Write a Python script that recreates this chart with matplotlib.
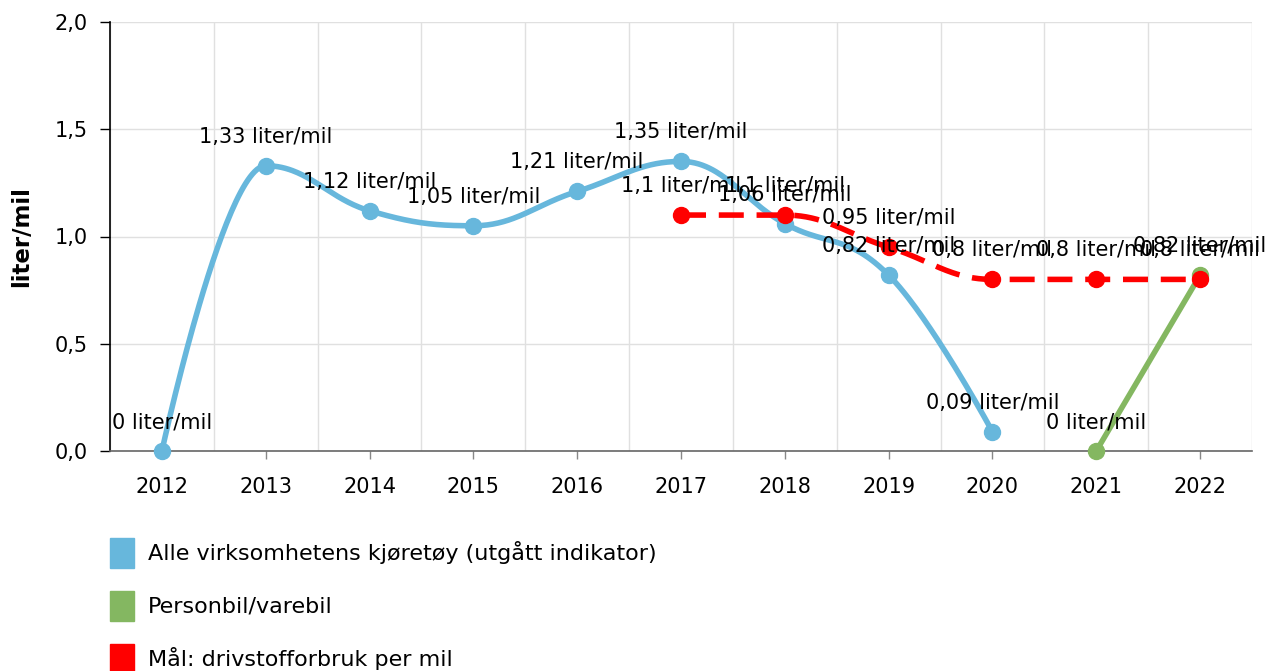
import numpy as np
import matplotlib
matplotlib.use("Agg")
import matplotlib.pyplot as plt
from matplotlib.patches import Rectangle

years = ["2012", "2013", "2014", "2015", "2016", "2017", "2018", "2019", "2020", "2021", "2022"]
alle_vals = [0, 1.33, 1.12, 1.05, 1.21, 1.35, 1.06, 0.82, 0.09]          # 2012-2020
person_vals = [0, 0.82]                                                   # 2021-2022
maal_vals = [1.1, 1.1, 0.95, 0.8, 0.8, 0.8]                               # 2017-2022

series_names = ["Alle virksomhetens kjøretøy (utgått indikator)",
                "Personbil/varebil",
                "Mål: drivstofforbruk per mil"]
colors = ["#67B7DC", "#84B761", "#FF0000"]
yticks = [0.0, 0.5, 1.0, 1.5, 2.0]


def hc_spline(xs, ys, n=60):
    """Highcharts-style spline path (smoothing 1.5)."""
    xs = list(map(float, xs)); ys = list(map(float, ys))
    N = len(xs)
    if N < 3:
        return np.array(xs), np.array(ys)
    sm, den = 1.5, 2.5
    lc = [None] * N
    rc = [None] * N
    for i in range(1, N - 1):
        px, py = xs[i], ys[i]
        lx, ly = xs[i - 1], ys[i - 1]
        nx, ny = xs[i + 1], ys[i + 1]
        lcx = (sm * px + lx) / den; lcy = (sm * py + ly) / den
        rcx = (sm * px + nx) / den; rcy = (sm * py + ny) / den
        corr = ((rcy - lcy) * (rcx - px)) / (rcx - lcx) + py - rcy
        lcy += corr; rcy += corr
        if lcy > ly and lcy > py:
            lcy = max(ly, py); rcy = 2 * py - lcy
        elif lcy < ly and lcy < py:
            lcy = min(ly, py); rcy = 2 * py - lcy
        if rcy > ny and rcy > py:
            rcy = max(ny, py); lcy = 2 * py - rcy
        elif rcy < ny and rcy < py:
            rcy = min(ny, py); lcy = 2 * py - rcy
        lc[i] = (lcx, lcy); rc[i] = (rcx, rcy)
    X, Y = [xs[0]], [ys[0]]
    t = np.linspace(0, 1, n)[1:]
    for i in range(1, N):
        p0 = (xs[i - 1], ys[i - 1])
        p1 = rc[i - 1] if rc[i - 1] is not None else p0
        p3 = (xs[i], ys[i])
        p2 = lc[i] if lc[i] is not None else p3
        bx = (1 - t) ** 3 * p0[0] + 3 * (1 - t) ** 2 * t * p1[0] + 3 * (1 - t) * t ** 2 * p2[0] + t ** 3 * p3[0]
        by = (1 - t) ** 3 * p0[1] + 3 * (1 - t) ** 2 * t * p1[1] + 3 * (1 - t) * t ** 2 * p2[1] + t ** 3 * p3[1]
        X.extend(bx); Y.extend(by)
    return np.array(X), np.array(Y)


def fmt(v):
    s = ("%g" % v).replace(".", ",")
    return s + " liter/mil"


W, H = 1283, 671
fig = plt.figure(figsize=(W / 100, H / 100), dpi=100)
L, R, T, B = 110, 1252, 22, 451
ax = fig.add_axes([L / W, 1 - B / H, (R - L) / W, (B - T) / H])

ax.set_xlim(-0.5, len(years) - 0.5)
ax.set_ylim(0, 2.0)

# grid
for yv in yticks:
    ax.axhline(yv, color="#e0e0e0", lw=1.0, zorder=0)
for k in range(len(years) + 1):
    ax.axvline(k - 0.5, color="#e0e0e0", lw=1.0, zorder=0)

FS = 15
ax.set_xticks(range(len(years)))
ax.set_xticklabels(years, fontsize=FS, color="#000000")
ax.set_yticks(yticks)
ax.set_yticklabels([("%.1f" % v).replace(".", ",") for v in yticks], fontsize=FS)
ax.tick_params(axis="x", length=6, color="#888888", pad=13, width=1)
ax.tick_params(axis="y", length=7, color="#000000", pad=9, width=1)
for s in ["top", "right"]:
    ax.spines[s].set_visible(False)
ax.spines["left"].set_color("#000000")
ax.spines["left"].set_linewidth(1.2)
ax.spines["bottom"].set_color("#666666")
ax.spines["bottom"].set_linewidth(1.2)

ax.set_ylabel("liter/mil", fontsize=16.5, fontweight="bold")
ax.yaxis.set_label_coords(-77 / (R - L), 0.5)

lw = 4.0
ms = 11.5

# blue
xb = np.arange(len(alle_vals))
sx, sy = hc_spline(xb, alle_vals)
ax.plot(sx, sy, color=colors[0], lw=lw, solid_capstyle="round", zorder=3, clip_on=False)
ax.plot(xb, alle_vals, "o", color=colors[0], ms=ms, zorder=4, clip_on=False)

# green
xg = np.arange(9, 9 + len(person_vals))
ax.plot(xg, person_vals, color=colors[1], lw=lw, solid_capstyle="round", zorder=3, clip_on=False)
ax.plot(xg, person_vals, "o", color=colors[1], ms=ms, zorder=4, clip_on=False)

# red
xr = np.arange(5, 5 + len(maal_vals))
rx, ry = hc_spline(xr, maal_vals)
ax.plot(rx, ry, color=colors[2], lw=lw, dashes=(4.5, 2.3), dash_capstyle="butt", zorder=5, clip_on=False)
ax.plot(xr, maal_vals, "o", color=colors[2], ms=ms, zorder=6, clip_on=False)

# labels
for xs_, vs_ in [(xb, alle_vals), (xg, person_vals), (xr, maal_vals)]:
    for x, v in zip(xs_, vs_):
        ax.annotate(fmt(v), (x, v), xytext=(0, 29), textcoords="offset pixels",
                    ha="center", va="center", fontsize=FS, color="#000000", zorder=10,
                    annotation_clip=False)

# legend
rows = [553, 606, 659]
for name, c, yc in zip(series_names, colors, rows):
    fig.patches.append(Rectangle((110 / W, 1 - (yc + 15) / H), 24 / W, 30 / H,
                                 transform=fig.transFigure, color=c, figure=fig))
    fig.text(148 / W, 1 - yc / H, name, fontsize=16, va="center", ha="left")

fig.savefig("out.png", dpi=100)
